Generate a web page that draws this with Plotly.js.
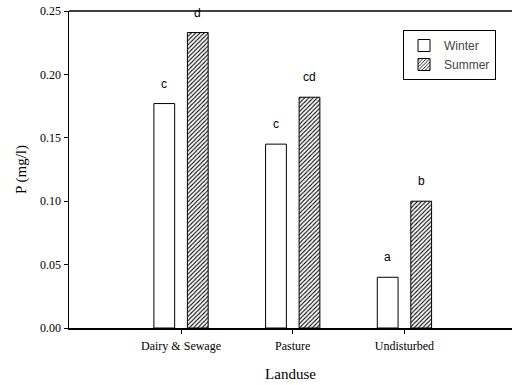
<!DOCTYPE html>
<html>
<head>
<meta charset="utf-8">
<script src="https://cdn.plot.ly/plotly-3.0.1.min.js"></script>
<style>html,body{margin:0;padding:0;background:#fff;}#chart{width:512px;height:385px;}</style>
</head>
<body>
<div id="chart"></div>
<script>
const categories = ["Dairy & Sewage", "Pasture", "Undisturbed"];
const winter = [0.177, 0.145, 0.040];
const summer = [0.233, 0.182, 0.100];
const winterLetters = ["c", "c", "a"];
const summerLetters = ["d", "cd", "b"];

const bargap = 0.40;
const bargroupgap = 0.38;
const slot = (1 - bargap) / 2;

const traces = [
  {
    type: "bar", name: "Winter", x: categories, y: winter,
    marker: {color: "#ffffff", line: {color: "#000000", width: 1}}
  },
  {
    type: "bar", name: "Summer", x: categories, y: summer,
    marker: {color: "#ffffff", line: {color: "#000000", width: 1},
      pattern: {shape: "/", fgcolor: "#000000", bgcolor: "#ffffff", size: 3, solidity: 0.35}}
  }
];

const annotations = [];
categories.forEach((c, i) => {
  annotations.push({x: i - slot / 2, y: winter[i], xref: "x", yref: "y", text: winterLetters[i],
    showarrow: false, yanchor: "bottom", yshift: 11, font: {family: "Liberation Sans, Arial", size: 12, color: "#000"}});
  annotations.push({x: i + slot / 2, y: summer[i], xref: "x", yref: "y", text: summerLetters[i],
    showarrow: false, yanchor: "bottom", yshift: 11, font: {family: "Liberation Sans, Arial", size: 12, color: "#000"}});
});

const serif = "Liberation Serif, Times New Roman, serif";
const layout = {
  width: 512, height: 385,
  margin: {l: 69, r: 0, t: 11, b: 57},
  paper_bgcolor: "#fff", plot_bgcolor: "#fff",
  barmode: "group", bargap: bargap, bargroupgap: bargroupgap,
  showlegend: true,
  legend: {x: 0.754, y: 0.94, xanchor: "left", yanchor: "top",
    bordercolor: "#000", borderwidth: 1, bgcolor: "#fff",
    font: {family: "Liberation Sans, Arial", size: 12, color: "#444"}},
  xaxis: {
    type: "category", range: [-1.003, 2.963],
    showline: true, linecolor: "#000", linewidth: 1.5, mirror: false,
    ticks: "outside", ticklen: 4, tickcolor: "#000", ticklabelstandoff: 2,
    showgrid: false, zeroline: false,
    tickfont: {family: serif, size: 12, color: "#000"},
    title: {text: "Landuse", font: {family: serif, size: 15, color: "#000"}, standoff: 16}
  },
  yaxis: {
    range: [0, 0.25], dtick: 0.05, tickformat: ".2f",
    showline: true, linecolor: "#000", linewidth: 1.5,
    ticks: "outside", ticklen: 4, tickcolor: "#000",
    showgrid: false, zeroline: false,
    tickfont: {family: serif, size: 12, color: "#000"},
    title: {text: "P (mg/l)", font: {family: serif, size: 15, color: "#000"}, standoff: 10}
  },
  shapes: [
    {type: "line", xref: "paper", yref: "paper", x0: 0, x1: 1, y0: 1, y1: 1, line: {color: "#000", width: 1.5}}
  ],
  annotations: annotations
};

Plotly.newPlot("chart", traces, layout, {displayModeBar: false, staticPlot: true});
</script>
</body>
</html>
